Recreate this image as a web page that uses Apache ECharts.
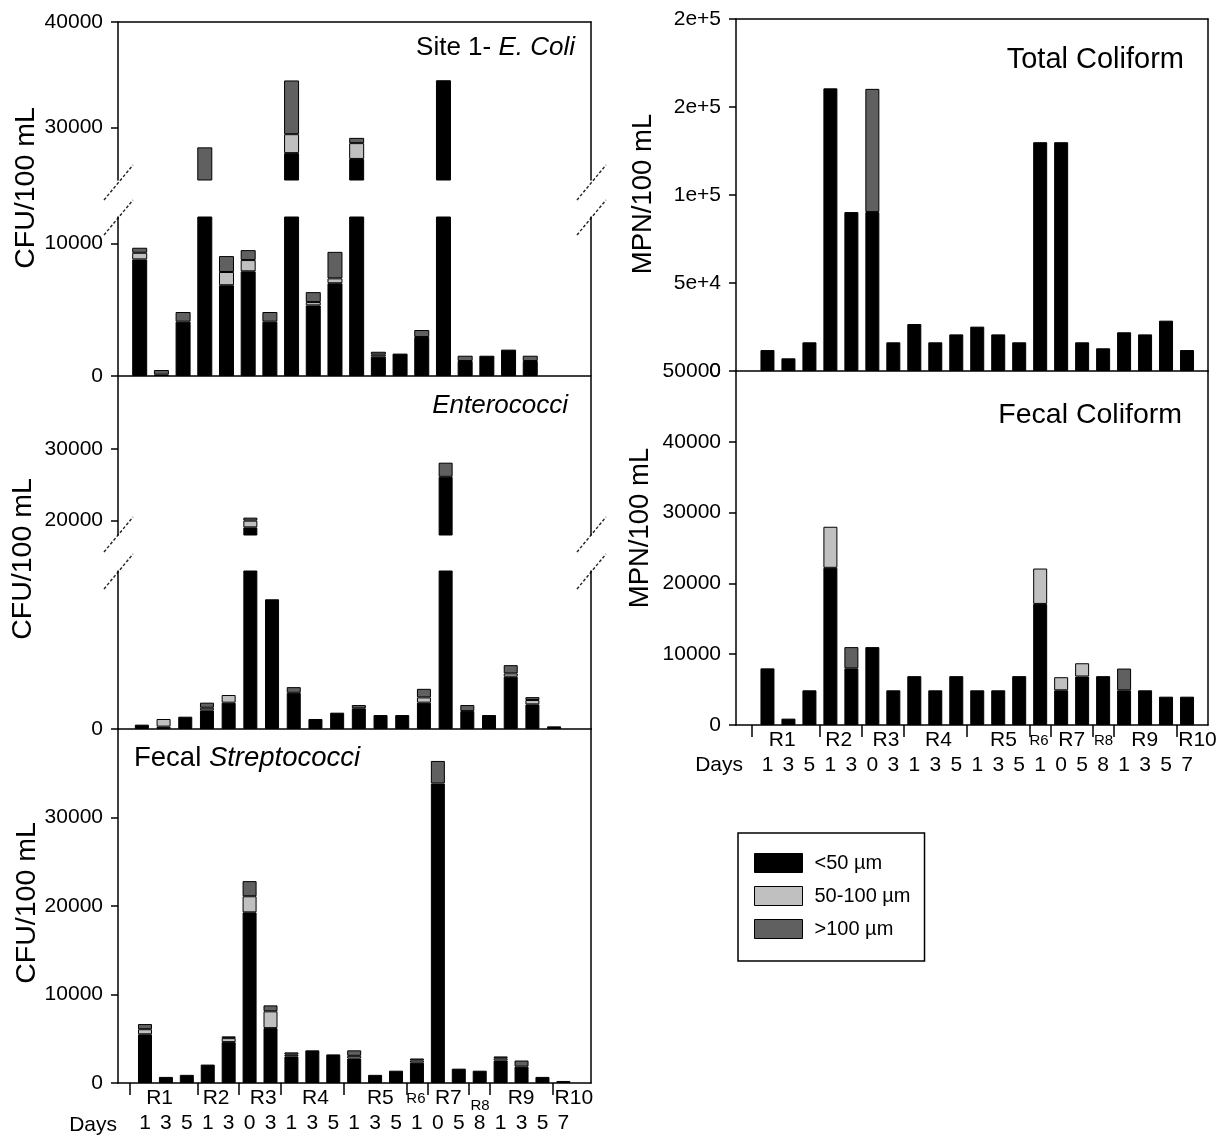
<!DOCTYPE html>
<html><head><meta charset="utf-8">
<script src="https://cdn.jsdelivr.net/npm/echarts@6/dist/echarts.min.js"></script>
<style>html,body{margin:0;padding:0;background:#fff}#c{width:1225px;height:1141px}</style>
</head><body><div id="c"></div>
<script>
// ---------- data ----------
const days = ['1','3','5','1','3','0','3','1','3','5','1','3','5','1','0','5','8','1','3','5','7'];
const regions = ['R1','R2','R3','R4','R5','R6','R7','R8','R9','R10'];
const regionPos = [1.7, 4.4, 6.65, 9.15, 12.25, 13.95, 15.5, 17.02, 18.98, 21.5];
const groupEdges = [0.25, 3.5, 5.5, 7.5, 10.5, 13.5, 14.5, 16.5, 17.5, 20.5];
const sizeClasses = ['<50 µm', '50-100 µm', '>100 µm'];

// Site 1 - E. coli (CFU/100 mL)
const ecoliSmall = [8800, 100, 4100, 20000, 6850, 7900, 4100, 27550, 5330, 7000, 27000, 1460, 1690, 2940, 34470, 1130, 1530, 1990, 1130];
const ecoliMid   = [500, 0, 0, 0, 1000, 850, 0, 1800, 250, 370, 1500, 150, 0, 0, 0, 0, 0, 0, 0];
const ecoliLarge = [380, 350, 730, 8100, 1200, 750, 730, 5100, 750, 2000, 500, 220, 0, 530, 0, 400, 0, 0, 400];
// Enterococci
const enteroSmall = [330, 180, 935, 1415, 2000, 19060, 9850, 2750, 760, 1240, 1570, 1060, 1060, 2000, 26100, 1360, 1060, 3970, 1870, 200];
const enteroMid   = [0, 580, 0, 200, 580, 940, 0, 0, 0, 0, 0, 0, 0, 400, 0, 0, 0, 250, 330, 0];
const enteroLarge = [0, 0, 0, 385, 0, 420, 0, 430, 0, 0, 250, 0, 0, 650, 1970, 460, 0, 630, 220, 0];
// Fecal Streptococci
const fsSmall = [5500, 690, 920, 2080, 4620, 19280, 6200, 3000, 3690, 3230, 2770, 920, 1390, 2300, 33840, 1620, 1390, 2540, 1850, 690, 230];
const fsMid   = [580, 0, 0, 0, 450, 1820, 1900, 200, 0, 0, 300, 0, 0, 250, 0, 0, 0, 250, 0, 0, 0];
const fsLarge = [580, 0, 0, 0, 200, 1710, 670, 260, 0, 0, 620, 0, 0, 220, 2550, 0, 0, 210, 690, 0, 0];
// Total Coliform (MPN/100 mL)
const tcSmall = [11900, 7200, 16300, 160600, 90300, 90300, 16300, 26700, 16300, 20800, 25200, 20800, 16300, 130000, 130000, 16300, 12900, 22000, 20800, 28600, 11900];
const tcMid   = [0,0,0,0,0,0,0,0,0,0,0,0,0,0,0,0,0,0,0,0,0];
const tcLarge = [0,0,0,0,0,70000,0,0,0,0,0,0,0,0,0,0,0,0,0,0,0];
// Fecal Coliform
const fcSmall = [8000, 900, 4900, 22200, 8000, 11000, 4900, 6900, 4900, 6900, 4900, 4900, 6900, 17100, 4900, 6850, 6900, 4900, 4900, 4000, 4000];
const fcMid   = [0,0,0,5800,0,0,0,0,0,0,0,0,0,5000,1850,1870,0,0,0,0,0];
const fcLarge = [0,0,0,0,3000,0,0,0,0,0,0,0,0,0,0,0,0,3070,0,0,0];

// tick labels
const ecoliTicksUpper = [30000, 40000];
const ecoliTicksLower = [0, 10000];
const enteroTicksUpper = [20000, 30000];
const enteroTicksLower = [0];
const fsTicks = [0, 10000, 20000, 30000];
const tcTicks = [0, 50000, 100000, 150000, 200000];
const fcTicks = [0, 10000, 20000, 30000, 40000, 50000];

// ---------- building ----------
const FONT = '"Liberation Sans", Arial, Helvetica, sans-serif';
const COLORS = ['#000000', '#c0c0c0', '#606060'];
const grids = [], xAxes = [], yAxes = [], series = [];
const LS = {color: '#000', width: 1.5};
const TICK_FS = 21;

function findRegion(v) {
  for (let i = 0; i < regionPos.length; i++) if (Math.abs(regionPos[i] - v) < 1e-6) return i;
  return -1;
}

function addPanel(p) {
  const gi = grids.length;
  grids.push({left: p.left, top: p.top, width: p.width, height: p.height,
    containLabel: false, outerBoundsMode: 'none', show: false});
  const xi = xAxes.length, yi = yAxes.length;
  const xBase = {type: 'value', gridIndex: gi, min: p.xmin, max: p.xmax, splitLine: {show: false}};
  const xb = Object.assign({}, xBase, {position: 'bottom',
    axisLine: {show: p.bottom, onZero: false, lineStyle: LS},
    axisTick: {show: false}, axisLabel: {show: false}});
  if (p.dayAxis) {
    const vals = days.map((d, i) => i + 1).concat(regionPos);
    xb.axisTick = {show: true, customValues: groupEdges, length: 12, inside: false, lineStyle: LS};
    xb.axisLabel = {show: true, customValues: vals, showMinLabel: true, showMaxLabel: true,
      hideOverlap: false, margin: 3, fontSize: TICK_FS, lineHeight: 25, color: '#000', fontFamily: FONT,
      formatter: function (v) {
        const r = findRegion(v);
        if (r >= 0) {
          const name = regions[r];
          if (name === 'R6') return '{s|' + name + '}';
          if (name === 'R8') return p.lowR8 ? '{t|' + name + '}' : '{s|' + name + '}';
          return '{r|' + name + '}';
        }
        return ' \n{r|' + days[Math.round(v) - 1] + '}';
      },
      rich: {
        r: {fontSize: TICK_FS, fontFamily: FONT, color: '#000', lineHeight: 25},
        s: {fontSize: 15, fontFamily: FONT, color: '#000', lineHeight: 25},
        t: {fontSize: 15, fontFamily: FONT, color: '#000', lineHeight: 25, padding: [14, 0, 0, 0]}
      }};
  }
  xAxes.push(xb);
  xAxes.push(Object.assign({}, xBase, {position: 'top',
    axisLine: {show: p.topLine, onZero: false, lineStyle: LS},
    axisTick: {show: false}, axisLabel: {show: false}}));
  const yBase = {type: 'value', gridIndex: gi, min: p.ymin, max: p.ymax, splitLine: {show: false}};
  yAxes.push(Object.assign({}, yBase, {position: 'left',
    axisLine: {show: true, onZero: false, lineStyle: LS},
    axisTick: {show: true, length: 7, inside: false, customValues: p.yTicks, lineStyle: LS},
    axisLabel: {show: true, customValues: p.yTicks, showMinLabel: true, showMaxLabel: true,
      hideOverlap: false, margin: 15, fontSize: TICK_FS, color: '#000', fontFamily: FONT,
      formatter: p.yFmt || (v => String(v))}}));
  yAxes.push(Object.assign({}, yBase, {position: 'right',
    axisLine: {show: true, onZero: false, lineStyle: LS},
    axisTick: {show: false}, axisLabel: {show: false}}));
  p.data.forEach((vals, k) => {
    series.push({type: 'bar', name: sizeClasses[k], xAxisIndex: xi, yAxisIndex: yi,
      stack: 'g' + gi, barWidth: p.barWidth, clip: true, animation: false, silent: true,
      itemStyle: {color: COLORS[k], borderColor: '#000', borderWidth: 1},
      // value column first so that the stack is computed on the y (value) dimension
      dimensions: ['v', 'pos'], encode: {x: 'pos', y: 'v'},
      data: vals.map((v, i) => [v > 0 ? v : '-', i + 1])});
  });
}

const L = {left: 118, width: 473};
const R = {left: 736, width: 472};
// E. coli (broken axis)
addPanel(Object.assign({}, L, {top: 22, height: 158, xmin: 0, xmax: 21.8, ymin: 25000, ymax: 40000,
  yTicks: ecoliTicksUpper, topLine: true, bottom: false, barWidth: 15, data: [ecoliSmall, ecoliMid, ecoliLarge]}));
addPanel(Object.assign({}, L, {top: 217, height: 159, xmin: 0, xmax: 21.8, ymin: 0, ymax: 12000,
  yTicks: ecoliTicksLower, topLine: false, bottom: true, barWidth: 15, data: [ecoliSmall, ecoliMid, ecoliLarge]}));
// Enterococci (broken axis)
addPanel(Object.assign({}, L, {top: 377, height: 158, xmin: -0.1, xmax: 21.7, ymin: 18000, ymax: 40000,
  yTicks: enteroTicksUpper, topLine: false, bottom: false, barWidth: 14, data: [enteroSmall, enteroMid, enteroLarge]}));
addPanel(Object.assign({}, L, {top: 571, height: 158, xmin: -0.1, xmax: 21.7, ymin: 0, ymax: 12000,
  yTicks: enteroTicksLower, topLine: false, bottom: true, barWidth: 14, data: [enteroSmall, enteroMid, enteroLarge]}));
// Fecal Streptococci
addPanel(Object.assign({}, L, {top: 729, height: 354, xmin: -0.29, xmax: 22.32, ymin: 0, ymax: 40000,
  yTicks: fsTicks, topLine: false, bottom: true, barWidth: 14, dayAxis: true, lowR8: true, data: [fsSmall, fsMid, fsLarge]}));
// Total Coliform
addPanel(Object.assign({}, R, {top: 19, height: 352, xmin: -0.5, xmax: 22, ymin: 0, ymax: 200000,
  yTicks: tcTicks, topLine: true, bottom: true, barWidth: 14,
  yFmt: v => v === 0 ? '0' : v.toExponential(0), data: [tcSmall, tcMid, tcLarge]}));
// Fecal Coliform
addPanel(Object.assign({}, R, {top: 371, height: 354, xmin: -0.5, xmax: 22, ymin: 0, ymax: 50000,
  yTicks: fcTicks, topLine: false, bottom: true, barWidth: 14, dayAxis: true, data: [fcSmall, fcMid, fcLarge]}));

// ---------- decorations (text, axis breaks) ----------
function txt(x, y, text, size, align, rot, rich) {
  const st = {text: text, fill: '#000', font: size + 'px ' + FONT,
    align: align, textAlign: align, verticalAlign: 'middle', textVerticalAlign: 'middle'};
  if (rich) st.rich = rich;
  const el = {type: 'text', x: x, y: y, silent: true, style: st};
  if (rot) el.rotation = rot;
  return el;
}
function richTitle(fs) {
  return {
    n: {fontSize: fs, fontFamily: FONT, fill: '#000', color: '#000'},
    i: {fontSize: fs, fontFamily: FONT, fontStyle: 'italic', fill: '#000', color: '#000'}
  };
}
function brk(cx, cy) {
  return {type: 'line', silent: true, shape: {x1: cx - 14, y1: cy + 17, x2: cx + 15, y2: cy - 18},
    style: {stroke: '#222', lineWidth: 1.4, lineDash: [3, 2]}};
}
const graphics = [
  txt(26, 188, 'CFU/100 mL', 28.5, 'center', Math.PI / 2),
  txt(23, 559, 'CFU/100 mL', 28.5, 'center', Math.PI / 2),
  txt(27, 903, 'CFU/100 mL', 28.5, 'center', Math.PI / 2),
  txt(643, 194, 'MPN/100 mL', 27.5, 'center', Math.PI / 2),
  txt(640, 528, 'MPN/100 mL', 27.5, 'center', Math.PI / 2),
  txt(575, 48, '{n|Site 1- }{i|E. Coli}', 26, 'right', 0, richTitle(26)),
  txt(568, 406, '{i|Enterococci}', 26, 'right', 0, richTitle(26)),
  txt(134, 758, '{n|Fecal }{i|Streptococci}', 27.5, 'left', 0, richTitle(27.5)),
  txt(1184, 60, 'Total Coliform', 29, 'right'),
  txt(1182, 415, 'Fecal Coliform', 28.5, 'right'),
  txt(117, 1125, 'Days', TICK_FS, 'right'),
  txt(743, 765, 'Days', TICK_FS, 'right'),
  brk(118, 183), brk(118, 218), brk(591, 183), brk(591, 218),
  brk(118, 535), brk(118, 572), brk(591, 535), brk(591, 572)
];

const option = {
  animation: false,
  backgroundColor: '#fff',
  textStyle: {fontFamily: FONT, color: '#000'},
  grid: grids, xAxis: xAxes, yAxis: yAxes, series: series,
  legend: {data: sizeClasses, orient: 'vertical', left: 738, top: 833,
    padding: [20, 14, 22, 16], itemWidth: 48, itemHeight: 19, itemGap: 13,
    borderColor: '#000', borderWidth: 1.5, icon: 'rect', selectedMode: false,
    itemStyle: {borderColor: '#000', borderWidth: 1},
    textStyle: {fontSize: 20, color: '#000', fontFamily: FONT, padding: [0, 0, 0, 7]}},
  graphic: {elements: graphics}
};
const chart = echarts.init(document.getElementById('c'), null, {renderer: 'canvas'});
chart.setOption(option);
</script>
</body></html>
